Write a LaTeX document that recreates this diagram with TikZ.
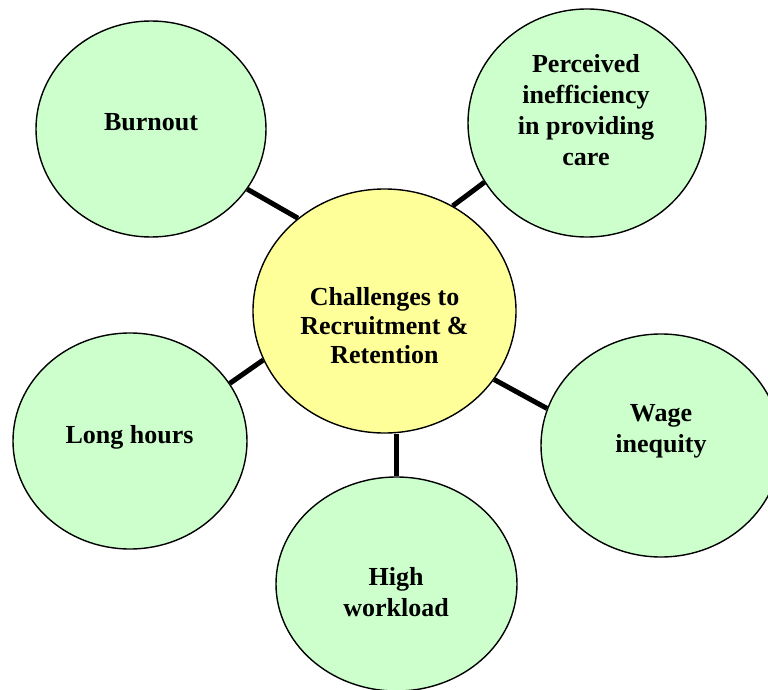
\documentclass[tikz,border=0pt]{standalone}
\usepackage{fontspec}
\setmainfont{Liberation Serif}
\usetikzlibrary{shapes.geometric,backgrounds}
\definecolor{leafgreen}{HTML}{CCFFCC}
\definecolor{hubyellow}{HTML}{FFFF99}
\begin{document}
\begin{tikzpicture}[x=1pt,y=-1pt,
  bubble/.style={ellipse,draw=black,line width=1.4pt,fill=leafgreen,inner sep=0pt},
  hub/.style={bubble,fill=hubyellow},
  caption/.style={font=\bfseries\fontsize{26}{31}\selectfont,align=center,inner sep=0pt},
  spoke/.style={line width=5pt,line cap=butt}]
\useasboundingbox (0,0) rectangle (768,690);

% ellipses
\node[hub,minimum width=263pt,minimum height=244pt] (hub) at (384.5,311) {};
\node[bubble,minimum width=230pt,minimum height=216pt] (burnout) at (151,129) {};
\node[bubble,minimum width=238pt,minimum height=228pt] (perceived) at (587,123) {};
\node[bubble,minimum width=234pt,minimum height=216pt] (long) at (130,441) {};
\node[bubble,minimum width=241pt,minimum height=214pt] (high) at (396.5,584) {};
\node[bubble,minimum width=240pt,minimum height=223pt] (wage) at (661,445.5) {};

% captions
\node[caption,anchor=base] (t-burnout) at (151,131) {Burnout};
\node[caption] (t-perceived) at (586,110.5) {Perceived\\inefficiency\\in providing\\care};
\node[caption,font=\bfseries\fontsize{26}{29}\selectfont] (t-hub) at (384.5,326) {Challenges to\\Recruitment \&\\Retention};
\node[caption,anchor=base] (t-long) at (129.5,443) {Long hours};
\node[caption] (t-wage) at (661,431) {Wage\\inequity};
\node[caption] (t-high) at (396,592.5) {High\\workload};

% spokes
\begin{scope}[on background layer]
\draw[spoke] (burnout.-32.3) -- (hub.133.9);
\draw[spoke] (perceived.210) -- (hub.57.6);
\draw[spoke] (long.30.1) -- (hub.202);
\draw[spoke] (wage.162.2) -- (hub.-32.5);
\draw[spoke] (high.north) -- (high.north |- hub.south);
\end{scope}
\end{tikzpicture}
\end{document}
